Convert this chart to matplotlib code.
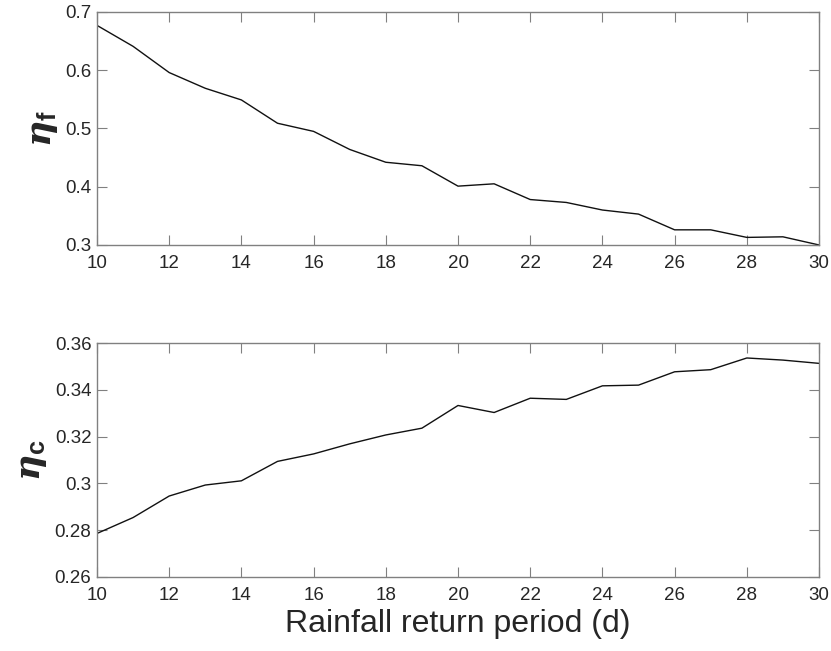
import matplotlib
matplotlib.use('Agg')
import matplotlib.pyplot as plt

# rainfall return period (d)
period = [10, 11, 12, 13, 14, 15, 16, 17, 18, 19, 20,
          21, 22, 23, 24, 25, 26, 27, 28, 29, 30]

# eta_f (top panel)
eta_f = [0.677, 0.641, 0.596, 0.569, 0.549, 0.509, 0.495, 0.464, 0.442, 0.436, 0.401,
         0.405, 0.378, 0.373, 0.360, 0.353, 0.326, 0.326, 0.313, 0.314, 0.300]

# eta_c (bottom panel)
eta_c = [0.2786, 0.2854, 0.2946, 0.2993, 0.3011, 0.3094, 0.3126, 0.3169, 0.3207, 0.3236, 0.3333,
         0.3303, 0.3364, 0.3359, 0.3417, 0.3420, 0.3477, 0.3486, 0.3536, 0.3527, 0.3513]

xticks = [10, 12, 14, 16, 18, 20, 22, 24, 26, 28, 30]
yticks_f = [0.3, 0.4, 0.5, 0.6, 0.7]
yticks_c = [0.26, 0.28, 0.30, 0.32, 0.34, 0.36]
yticklabels_c = ['0.26', '0.28', '0.3', '0.32', '0.34', '0.36']

plt.rcParams['font.family'] = ['Liberation Sans', 'DejaVu Sans']
plt.rcParams['mathtext.fontset'] = 'custom'
plt.rcParams['mathtext.rm'] = 'DejaVu Serif'
plt.rcParams['mathtext.it'] = 'DejaVu Serif:italic:bold'
plt.rcParams['mathtext.bf'] = 'Liberation Sans:bold'

fig = plt.figure(figsize=(8.31, 6.51), dpi=100)
ax1 = fig.add_axes([0.1167, 0.6237, 0.8689, 0.3579])
ax2 = fig.add_axes([0.1167, 0.1137, 0.8689, 0.3594])

axcol = '#808080'
txtcol = '#262626'

for ax in (ax1, ax2):
    ax.set_xlim(10, 30)
    ax.set_xticks(xticks)
    ax.tick_params(axis='both', direction='in', top=True, right=True, length=7, width=0.8,
                   color=axcol, labelcolor=txtcol, labelsize=13.5)
    ax.tick_params(axis='x', pad=7)
    ax.tick_params(axis='y', pad=4)
    for s in ax.spines.values():
        s.set_color(axcol)
        s.set_linewidth(1.0)

# top panel
ax1.plot(period, eta_f, color='#111111', linewidth=1.0)
ax1.set_ylim(0.3, 0.7)
ax1.set_yticks(yticks_f)
ax1.set_yticklabels([str(v) for v in yticks_f])
ax1.set_ylabel(r'$\eta_{\mathbf{f}}$', fontsize=26, color=txtcol, labelpad=4)

# bottom panel
ax2.plot(period, eta_c, color='#111111', linewidth=1.0)
ax2.set_ylim(0.26, 0.36)
ax2.set_yticks(yticks_c)
ax2.set_yticklabels(yticklabels_c)
ax2.set_ylabel(r'$\eta_{\mathbf{c}}$', fontsize=26, color=txtcol, labelpad=4)
ax2.set_xlabel('Rainfall return period (d)', fontsize=23, color=txtcol, labelpad=4)

fig.savefig('out.png', dpi=100)
